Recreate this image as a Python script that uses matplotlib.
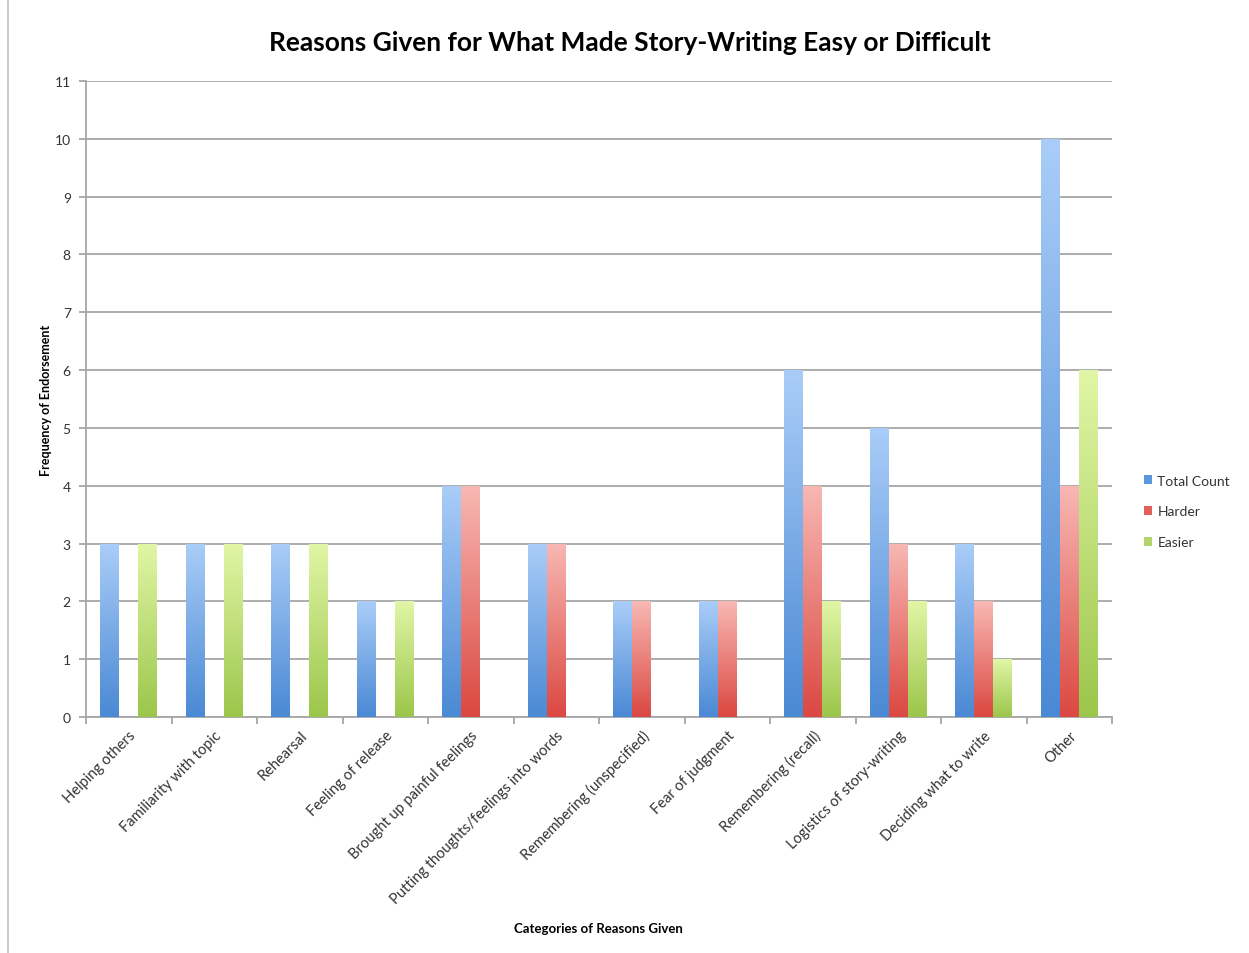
import numpy as np
import matplotlib
matplotlib.use("Agg")
from matplotlib import pyplot as plt
from matplotlib.colors import LinearSegmentedColormap
from matplotlib.patches import Patch
from matplotlib.lines import Line2D

categories = ["Helping others", "Familiarity with topic", "Rehearsal", "Feeling of release",
              "Brought up painful feelings", "Putting thoughts/feelings into words",
              "Remembering (unspecified)", "Fear of judgment", "Remembering (recall)",
              "Logistics of story-writing", "Deciding what to write", "Other"]
total_count = [3, 3, 3, 2, 4, 3, 2, 2, 6, 5, 3, 10]
harder = [0, 0, 0, 0, 4, 3, 2, 2, 4, 3, 2, 4]
easier = [3, 3, 3, 2, 0, 0, 0, 0, 2, 2, 1, 6]
series_names = ["Total Count", "Harder", "Easier"]

# (bottom colour, top colour) for the gradient fill
grads = [("#4a89d4", "#aacdf8"), ("#db4841", "#f8b8b4"), ("#9cc64b", "#e1f6a6")]
mids = ["#5b97dc", "#e2605a", "#b2d46a"]

plt.rcParams['font.family'] = ['Lato', 'DejaVu Sans']

fig = plt.figure(figsize=(12.49, 9.54), dpi=100)
ax = fig.add_axes([0.0689, 0.2474, 0.8215, 0.6667])

x = np.arange(len(categories))
w = 0.222
grad_img = np.linspace(0, 1, 256).reshape(-1, 1)
for i, vals in enumerate([total_count, harder, easier]):
    cmap = LinearSegmentedColormap.from_list("g%d" % i, [grads[i][0], grads[i][1]])
    bars = ax.bar(x + (i - 1) * w, vals, w, color="none", edgecolor="none", zorder=3)
    for b in bars:
        h = b.get_height()
        if h <= 0:
            continue
        bx = b.get_x()
        im = ax.imshow(grad_img, cmap=cmap, origin="lower", aspect="auto",
                       extent=[bx, bx + w, 0, h], zorder=3, interpolation="bilinear")
        im.set_clip_path(b)

ax.set_xlim(-0.5, len(categories) - 0.5)
ax.set_ylim(0, 11)
ax.set_yticks(range(0, 12))
ax.yaxis.grid(True, color="#a6a6a6", linewidth=1.3, zorder=0)
ax.set_axisbelow(True)
for s in ["top", "right"]:
    ax.spines[s].set_visible(False)
ax.spines["left"].set_color("#a6a6a6")
ax.spines["left"].set_linewidth(1.3)
ax.spines["bottom"].set_color("#a6a6a6")
ax.spines["bottom"].set_linewidth(1.3)
ax.tick_params(axis="y", length=5, color="#a6a6a6", width=1.3, labelsize=10, labelcolor="#333333", pad=6)

ax.set_xticks(x)
ax.set_xticklabels(categories, rotation=45, ha="right", rotation_mode="anchor",
                   fontsize=10.5, color="#333333")
ax.tick_params(axis="x", length=0, pad=8)
ax.set_xticks(np.arange(-0.5, len(categories)), minor=True)
ax.tick_params(axis="x", which="minor", length=5, color="#a6a6a6", width=1.3)

ax.set_ylabel("Frequency of Endorsement", fontsize=9, fontweight="bold", labelpad=2)
fig.text(0.479, 0.022, "Categories of Reasons Given", fontsize=9.5, fontweight="bold", ha="center")
fig.text(0.504, 0.955, "Reasons Given for What Made Story-Writing Easy or Difficult",
         fontsize=19, fontweight="bold", ha="center", va="center")

handles = [Patch(facecolor=m, edgecolor="none") for m in mids]
fig.legend(handles, series_names, loc="center left", bbox_to_anchor=(0.906, 0.463),
           frameon=False, fontsize=10, handlelength=0.6, handleheight=0.6,
           handletextpad=0.35, labelspacing=1.35, labelcolor="#333333")

fig.add_artist(Line2D([0.0066, 0.0066], [0.0, 1.0], color="#cccccc", linewidth=1.5))

fig.savefig("out.png", dpi=100)
